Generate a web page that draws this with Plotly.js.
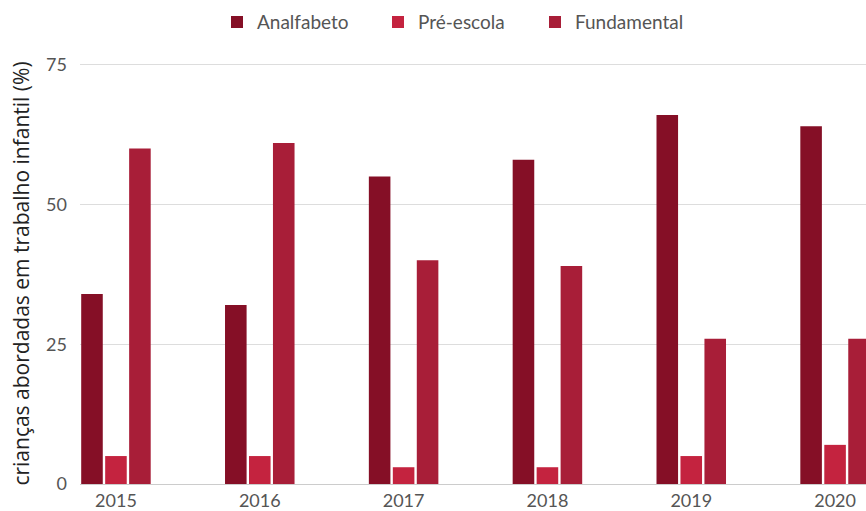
<!DOCTYPE html>
<html>
<head>
<meta charset="utf-8">
<script src="https://cdn.plot.ly/plotly-3.0.1.min.js"></script>
<style>html,body{margin:0;padding:0;background:#fff}#chart{width:866px;height:511px}</style>
</head>
<body>
<div id="chart"></div>
<script>
const years = ['2015', '2016', '2017', '2018', '2019', '2020'];
const analfabeto = [34, 32, 55, 58, 66, 64];
const preEscola = [5, 5, 3, 3, 5, 7];
const fundamental = [60, 61, 40, 39, 26, 26];
const seriesNames = ['Analfabeto', 'Pré-escola', 'Fundamental'];
const colors = ['#850f26', '#c4233f', '#a81e38'];
const yTicks = [0, 25, 50, 75];

const legendIds = ['legend', 'legend2', 'legend3'];
const series = [analfabeto, preEscola, fundamental];
const traces = series.map((vals, i) => ({
  type: 'bar',
  name: seriesNames[i],
  x: years,
  y: vals,
  legend: legendIds[i],
  marker: {color: colors[i]},
  hoverinfo: 'x+y+name'
}));

const plotL = 80, plotW = 786;
const textStarts = [257, 418, 575];
function legendAt(px) {
  return {
    orientation: 'h',
    x: (px - 40 - plotL) / plotW, xanchor: 'left',
    y: 1.097, yanchor: 'middle',
    font: {size: 19, color: '#555', family: 'Lato, sans-serif'},
    itemwidth: 30,
    bgcolor: 'rgba(0,0,0,0)'
  };
}

const layout = {
  width: 866,
  height: 511,
  margin: {l: plotL, r: 0, t: 63, b: 27},
  paper_bgcolor: '#fff',
  plot_bgcolor: '#fff',
  font: {family: 'Lato, "Open Sans", sans-serif', color: '#555', size: 18},
  barmode: 'group',
  bargap: 0.5,
  bargroupgap: 0.1,
  showlegend: true,
  legend: legendAt(textStarts[0]),
  legend2: legendAt(textStarts[1]),
  legend3: legendAt(textStarts[2]),
  xaxis: {
    type: 'category',
    range: [-0.25, 5.215],
    showgrid: false,
    showline: true,
    linecolor: '#ccc',
    ticks: '',
    tickfont: {size: 18, color: '#555'},
    ticklabelstandoff: 0
  },
  yaxis: {
    range: [0, 75.3],
    tickvals: yTicks,
    ticktext: yTicks.map(String),
    showgrid: true,
    gridcolor: '#ddd',
    zeroline: false,
    showline: false,
    ticks: '',
    ticklabelstandoff: 12,
    tickfont: {size: 18, color: '#555'},
    title: {
      text: 'crianças abordadas em trabalho infantil (%)',
      font: {size: 21, color: '#222', family: '"Open Sans", sans-serif'},
      standoff: 10
    }
  }
};

Plotly.newPlot('chart', traces, layout, {displayModeBar: false, responsive: false});
</script>
</body>
</html>
